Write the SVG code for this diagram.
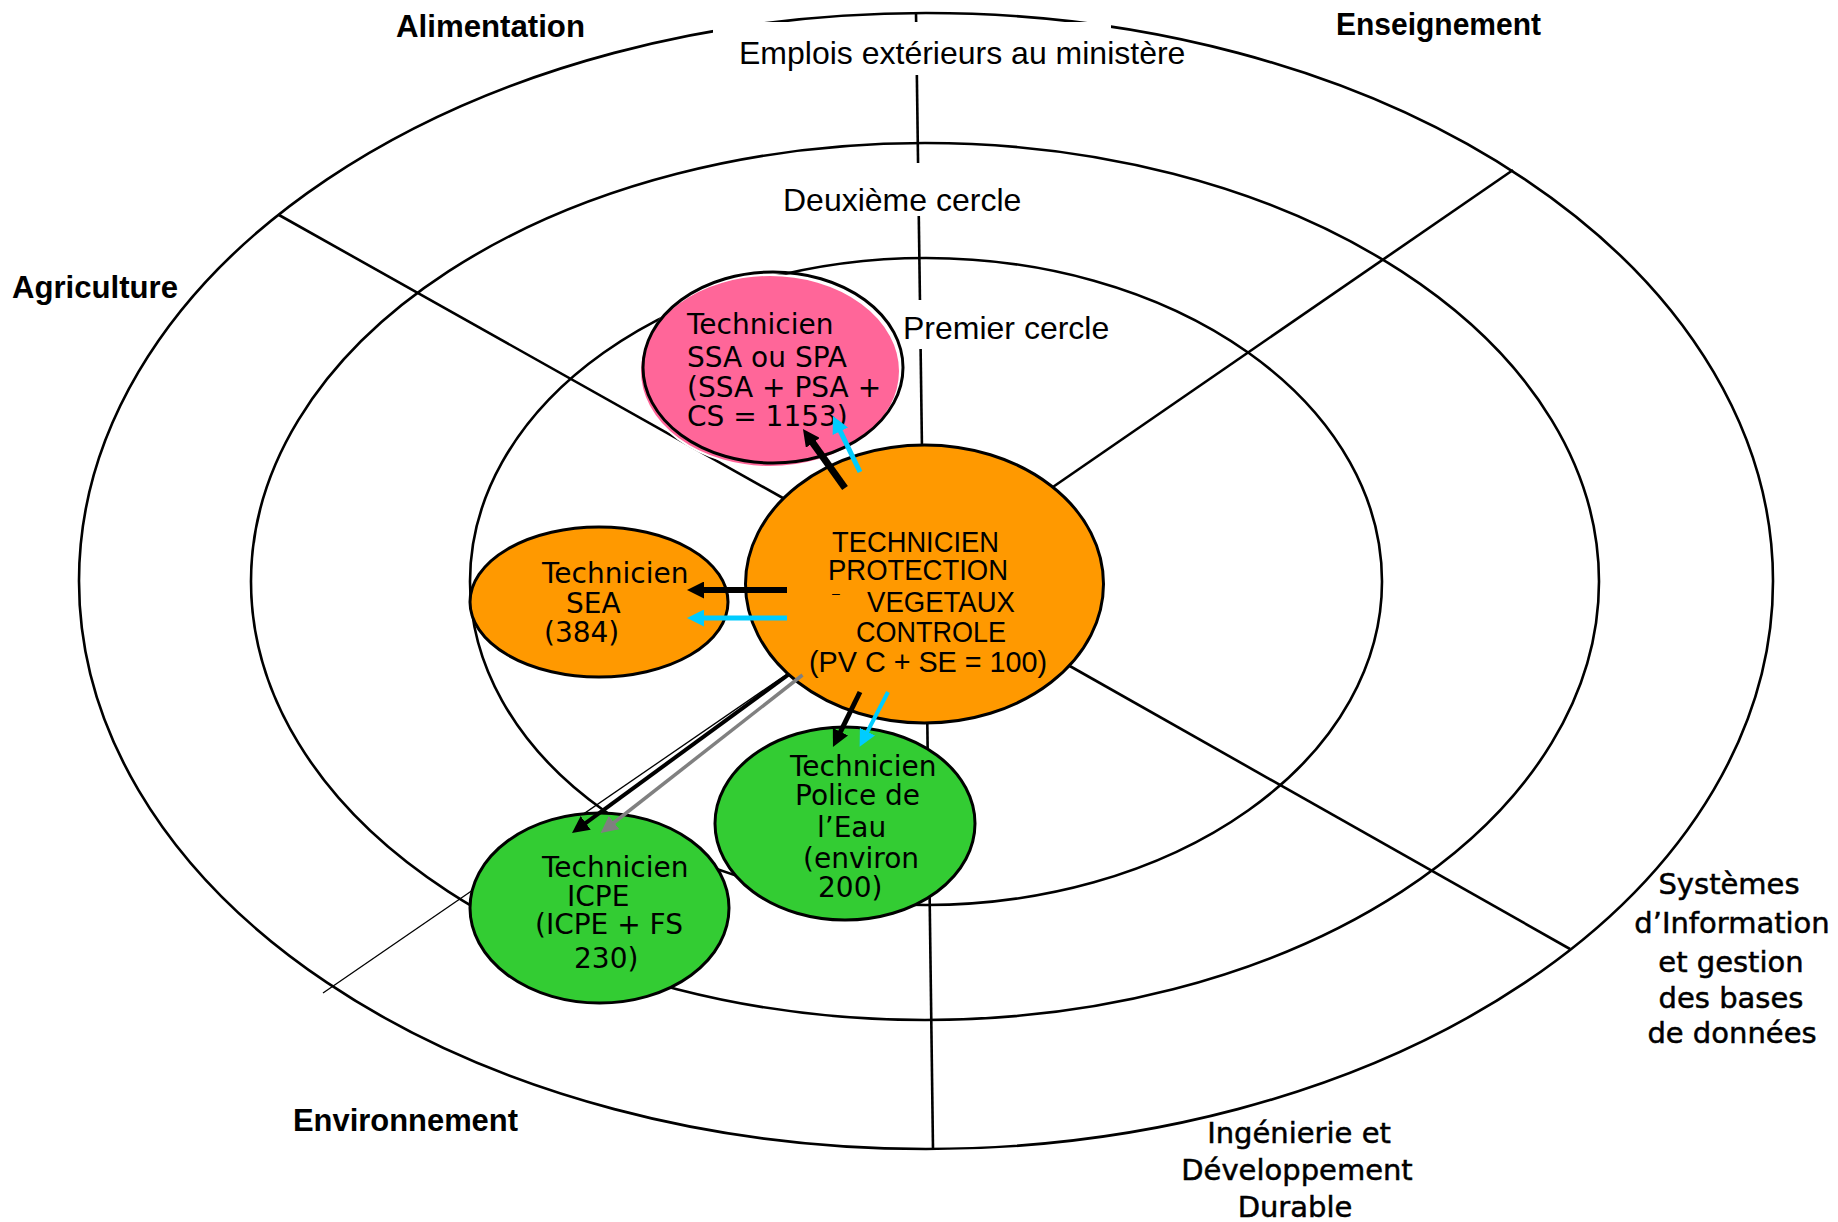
<svg xmlns="http://www.w3.org/2000/svg" width="1838" height="1222" viewBox="0 0 1838 1222">
  <style>
    .ring { fill: none; stroke: #000; stroke-width: 2.6; }
    .div { stroke: #000; stroke-width: 2.6; fill: none; }
    .thin { stroke: #000; stroke-width: 1.3; fill: none; }
    .box { fill: #fff; stroke: none; }
    .node { stroke: #000; stroke-width: 3; }
    .circ { font-family: "Liberation Sans", Arial, sans-serif; font-size: 32px; fill: #000; }
    .sect { font-family: "Liberation Sans", Arial, sans-serif; font-size: 31px; font-weight: bold; fill: #000; }
    .sect2 { font-family: "DejaVu Sans", Verdana, sans-serif; font-size: 29px; fill: #000; stroke: #000; stroke-width: 0.5; text-anchor: middle; }
    .nt { font-family: "DejaVu Sans", Verdana, sans-serif; font-size: 28px; fill: #000; }
    .ct { font-family: "Liberation Sans", Arial, sans-serif; font-size: 29.5px; fill: #000; }
  </style>
  <defs>
    <marker id="hBlack" markerUnits="userSpaceOnUse" markerWidth="18" markerHeight="17" viewBox="0 0 18 17" refX="4" refY="8.5" orient="auto">
      <path d="M0,0 L17,8.5 L0,17 z" fill="#000"/>
    </marker>
    <marker id="hCyan" markerUnits="userSpaceOnUse" markerWidth="18" markerHeight="17" viewBox="0 0 18 17" refX="4" refY="8.5" orient="auto">
      <path d="M0,0 L17,8.5 L0,17 z" fill="#00CCFF"/>
    </marker>
    <marker id="hGray" markerUnits="userSpaceOnUse" markerWidth="18" markerHeight="17" viewBox="0 0 18 17" refX="4" refY="8.5" orient="auto">
      <path d="M0,0 L17,8.5 L0,17 z" fill="#808080"/>
    </marker>
  </defs>

  <rect x="0" y="0" width="1838" height="1222" fill="#fff"/>

  <g id="rings">
    <ellipse class="ring" cx="926" cy="581" rx="847" ry="568"/>
    <ellipse class="ring" cx="925" cy="581.5" rx="674" ry="438.5"/>
    <ellipse class="ring" cx="926" cy="581.5" rx="456" ry="323.5"/>
  </g>

  <g id="dividers">
    <line class="div" x1="916" y1="13" x2="922" y2="450"/>
    <line class="div" x1="927" y1="700" x2="933" y2="1149"/>
    <line class="div" x1="279" y1="215" x2="790" y2="502"/>
    <line class="div" x1="1513" y1="170" x2="1050" y2="489"/>
    <line class="div" x1="1068" y1="665" x2="1570" y2="949"/>
    <line class="thin" x1="790" y1="672" x2="323" y2="993"/>
  </g>

  <g id="label-boxes">
    <rect class="box" x="713" y="22" width="398" height="53"/>
    <rect class="box" x="775" y="163" width="253" height="53"/>
    <rect class="box" x="898" y="300" width="222" height="49"/>
  </g>

  <g id="node-ssa">
    <ellipse cx="770" cy="371" rx="130" ry="96" fill="#FF6699" stroke="#fff" stroke-width="2"/>
    <ellipse cx="773" cy="367.5" rx="130" ry="95.5" fill="none" stroke="#000" stroke-width="3"/>
    <text class="nt"><tspan x="687" y="334">Technicien</tspan><tspan x="687" y="367">SSA ou SPA</tspan><tspan x="687" y="397">(SSA + PSA +</tspan><tspan x="687" y="426">CS = 1153)</tspan></text>
  </g>

  <g id="node-pvc">
    <ellipse class="node" cx="924.5" cy="584" rx="179" ry="139" fill="#FF9900"/>
  </g>

  <g id="node-sea">
    <ellipse class="node" cx="599" cy="602" rx="129" ry="75" fill="#FF9900"/>
    <text class="nt"><tspan x="542" y="583">Technicien</tspan><tspan x="566" y="613">SEA</tspan><tspan x="544" y="642">(384)</tspan></text>
  </g>

  <g id="node-police">
    <ellipse class="node" cx="845" cy="823.5" rx="130" ry="96.5" fill="#33CC33"/>
    <text class="nt"><tspan x="790" y="776">Technicien</tspan><tspan x="795" y="805">Police de</tspan><tspan x="817" y="837">l’Eau</tspan><tspan x="803" y="868">(environ</tspan><tspan x="818" y="897">200)</tspan></text>
  </g>

  <g id="node-icpe">
    <ellipse class="node" cx="599.5" cy="908" rx="129.5" ry="95" fill="#33CC33"/>
    <text class="nt"><tspan x="542" y="877">Technicien</tspan><tspan x="567" y="906">ICPE</tspan><tspan x="535" y="934">(ICPE + FS</tspan><tspan x="574" y="968">230)</tspan></text>
  </g>

  <g id="connectors">
    <line x1="787" y1="590" x2="700" y2="590" stroke="#000" stroke-width="6" marker-end="url(#hBlack)"/>
    <line x1="787" y1="618" x2="700" y2="618" stroke="#00CCFF" stroke-width="5" marker-end="url(#hCyan)"/>
    <line x1="845" y1="488" x2="810.5" y2="439.6" stroke="#000" stroke-width="7" marker-end="url(#hBlack)"/>
    <line x1="860" y1="472" x2="838.6" y2="427.7" stroke="#00CCFF" stroke-width="5" marker-end="url(#hCyan)"/>
    <line x1="860" y1="692" x2="838.7" y2="735.3" stroke="#000" stroke-width="5" marker-end="url(#hBlack)"/>
    <line x1="888" y1="692" x2="865.6" y2="735.2" stroke="#00CCFF" stroke-width="4" marker-end="url(#hCyan)"/>
    <line x1="788" y1="675" x2="582.5" y2="825.3" stroke="#000" stroke-width="4" marker-end="url(#hBlack)"/>
    <line x1="802.5" y1="675" x2="610.9" y2="825" stroke="#808080" stroke-width="3.5" marker-end="url(#hGray)"/>
  </g>

  <g id="node-pvc-text">
    <text class="ct"><tspan x="832" y="552" textLength="167" lengthAdjust="spacingAndGlyphs">TECHNICIEN</tspan><tspan x="828" y="580" textLength="180" lengthAdjust="spacingAndGlyphs">PROTECTION</tspan><tspan x="832" y="598" style="font-size:14px">–</tspan><tspan x="867" y="612" textLength="148" lengthAdjust="spacingAndGlyphs">VEGETAUX</tspan><tspan x="856" y="642" textLength="150" lengthAdjust="spacingAndGlyphs">CONTROLE</tspan><tspan x="809" y="672" textLength="238" lengthAdjust="spacingAndGlyphs">(PV C + SE = 100)</tspan></text>
  </g>

  <g id="labels">
    <text class="circ" x="739" y="64">Emplois extérieurs au ministère</text>
    <text class="circ" x="783" y="211">Deuxième cercle</text>
    <text class="circ" x="903" y="339">Premier cercle</text>
    <text class="sect" x="396" y="37" textLength="189" lengthAdjust="spacingAndGlyphs">Alimentation</text>
    <text class="sect" x="1336" y="35" textLength="205" lengthAdjust="spacingAndGlyphs">Enseignement</text>
    <text class="sect" x="12" y="298" textLength="166" lengthAdjust="spacingAndGlyphs">Agriculture</text>
    <text class="sect" x="293" y="1131" textLength="225" lengthAdjust="spacingAndGlyphs">Environnement</text>
    <text class="sect2"><tspan x="1729" y="894">Systèmes</tspan><tspan x="1732" y="933">d’Information</tspan><tspan x="1731" y="972">et gestion</tspan><tspan x="1731" y="1008">des bases</tspan><tspan x="1732" y="1043">de données</tspan></text>
    <text class="sect2"><tspan x="1299" y="1143">Ingénierie et</tspan><tspan x="1297" y="1180">Développement</tspan><tspan x="1295" y="1217">Durable</tspan></text>
  </g>
</svg>
